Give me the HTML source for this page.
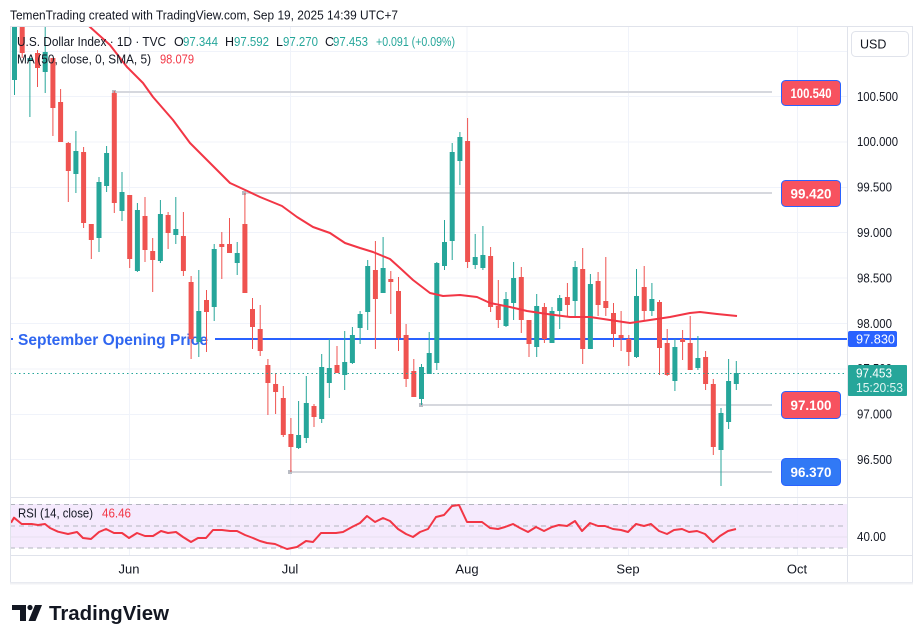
<!DOCTYPE html>
<html><head><meta charset="utf-8"><style>
html,body{margin:0;padding:0;background:#fff;}
svg{display:block;}
text{font-family:"Liberation Sans",sans-serif;}
</style></head><body>
<svg width="923" height="643" viewBox="0 0 923 643" xmlns="http://www.w3.org/2000/svg">
<defs>
<clipPath id="pane"><rect x="10" y="26" width="837" height="471"/></clipPath>
<clipPath id="rsi"><rect x="10" y="498" width="837" height="57"/></clipPath>
</defs>
<rect width="923" height="643" fill="#fff"/>
<text x="10" y="19.5" font-size="13" fill="#131722" textLength="388" lengthAdjust="spacingAndGlyphs">TemenTrading created with TradingView.com, Sep 19, 2025 14:39 UTC+7</text>

<!-- grid -->
<g stroke="#f0f3fa" stroke-width="1">
<line x1="10" y1="51.5" x2="847" y2="51.5"/>
<line x1="10" y1="96.5" x2="847" y2="96.5"/>
<line x1="10" y1="142" x2="847" y2="142"/>
<line x1="10" y1="187.5" x2="847" y2="187.5"/>
<line x1="10" y1="232.5" x2="847" y2="232.5"/>
<line x1="10" y1="278" x2="847" y2="278"/>
<line x1="10" y1="323.5" x2="847" y2="323.5"/>
<line x1="10" y1="369" x2="847" y2="369"/>
<line x1="10" y1="414.5" x2="847" y2="414.5"/>
<line x1="10" y1="459.5" x2="847" y2="459.5"/>
<line x1="129.5" y1="26" x2="129.5" y2="555"/>
<line x1="290.5" y1="26" x2="290.5" y2="555"/>
<line x1="467" y1="26" x2="467" y2="555"/>
<line x1="628.5" y1="26" x2="628.5" y2="555"/>
<line x1="797.5" y1="26" x2="797.5" y2="555"/>
</g>

<!-- RSI band -->
<rect x="10" y="504" width="837" height="44" fill="#f3e6fd" fill-opacity="0.85"/>
<line x1="10" y1="537" x2="847" y2="537" stroke="#e8e0f0" stroke-width="1"/>
<g stroke="#b2b5be" stroke-width="1" stroke-dasharray="5,4">
<line x1="10" y1="504.5" x2="847" y2="504.5"/>
<line x1="10" y1="526" x2="847" y2="526"/>
<line x1="10" y1="548" x2="847" y2="548"/>
</g>

<!-- horizontal level lines -->
<g stroke="#d6d8de" stroke-width="2">
<line x1="114" y1="92" x2="772" y2="92"/>
<line x1="244" y1="193" x2="772" y2="193"/>
<line x1="421" y1="405" x2="772" y2="405"/>
<line x1="290" y1="472" x2="772" y2="472"/>
</g>
<g fill="#b8bbc3">
<rect x="112" y="90" width="4" height="4"/>
<rect x="242" y="191" width="4" height="4"/>
<rect x="419" y="403" width="4" height="4"/>
<rect x="288" y="470" width="4" height="4"/>
</g>

<!-- September opening price -->
<line x1="10" y1="339" x2="13" y2="339" stroke="#2962ff" stroke-width="2"/>
<line x1="215" y1="339" x2="847" y2="339" stroke="#2962ff" stroke-width="2"/>
<text x="18" y="345" font-size="16" font-weight="bold" fill="#2f66f0" textLength="190" lengthAdjust="spacingAndGlyphs">September Opening Price</text>

<g clip-path="url(#pane)">
<!-- green candles -->
<g fill="#26a69a">
<rect x="14" y="27" width="1" height="68"/><rect x="12" y="27" width="5" height="53"/>
<rect x="29.4" y="58" width="1" height="59"/><rect x="27.4" y="58" width="5" height="3"/>
<rect x="44.7" y="27" width="1" height="66"/><rect x="42.7" y="52" width="5" height="20"/>
<rect x="75.4" y="131" width="1" height="62"/><rect x="73.4" y="151" width="5" height="23"/>
<rect x="98.5" y="177" width="1" height="75"/><rect x="96.5" y="182" width="5" height="56"/>
<rect x="106.1" y="146" width="1" height="46"/><rect x="104.1" y="153" width="5" height="33"/>
<rect x="121.5" y="172" width="1" height="49"/><rect x="119.5" y="192" width="5" height="19"/>
<rect x="136.9" y="203" width="1" height="69"/><rect x="134.9" y="210" width="5" height="61"/>
<rect x="159.9" y="200" width="1" height="63"/><rect x="157.9" y="214" width="5" height="47"/>
<rect x="175.3" y="197" width="1" height="47"/><rect x="173.3" y="229" width="5" height="6"/>
<rect x="198.3" y="270" width="1" height="87"/><rect x="196.3" y="311" width="5" height="31"/>
<rect x="213.7" y="244" width="1" height="77"/><rect x="211.7" y="249" width="5" height="58"/>
<rect x="236.7" y="242" width="1" height="33"/><rect x="234.7" y="253" width="5" height="10"/>
<rect x="298.1" y="401" width="1" height="48"/><rect x="296.1" y="435" width="5" height="13"/>
<rect x="305.8" y="376" width="1" height="67"/><rect x="303.8" y="403" width="5" height="35"/>
<rect x="321.2" y="354" width="1" height="69"/><rect x="319.2" y="367" width="5" height="52"/>
<rect x="328.8" y="339" width="1" height="59"/><rect x="326.8" y="368" width="5" height="15"/>
<rect x="344.2" y="331" width="1" height="59"/><rect x="342.2" y="362" width="5" height="13"/>
<rect x="351.9" y="327" width="1" height="37"/><rect x="349.9" y="335" width="5" height="28"/>
<rect x="359.6" y="311" width="1" height="33"/><rect x="357.6" y="314" width="5" height="14"/>
<rect x="367.2" y="260" width="1" height="70"/><rect x="365.2" y="266" width="5" height="46"/>
<rect x="382.6" y="237" width="1" height="56"/><rect x="380.6" y="268" width="5" height="25"/>
<rect x="421" y="364" width="1" height="41"/><rect x="419" y="367" width="5" height="32"/>
<rect x="428.7" y="332" width="1" height="42"/><rect x="426.7" y="353" width="5" height="21"/>
<rect x="436.3" y="262" width="1" height="108"/><rect x="434.3" y="263" width="5" height="100"/>
<rect x="444" y="220" width="1" height="50"/><rect x="442" y="242" width="5" height="24"/>
<rect x="451.7" y="143" width="1" height="117"/><rect x="449.7" y="152" width="5" height="89"/>
<rect x="459.4" y="132" width="1" height="53"/><rect x="457.4" y="137" width="5" height="24"/>
<rect x="474.7" y="234" width="1" height="35"/><rect x="472.7" y="257" width="5" height="8"/>
<rect x="482.4" y="226" width="1" height="44"/><rect x="480.4" y="255" width="5" height="13"/>
<rect x="505.5" y="292" width="1" height="35"/><rect x="503.5" y="299" width="5" height="27"/>
<rect x="513.1" y="262" width="1" height="58"/><rect x="511.1" y="278" width="5" height="25"/>
<rect x="536.2" y="294" width="1" height="63"/><rect x="534.2" y="306" width="5" height="41"/>
<rect x="551.5" y="307" width="1" height="36"/><rect x="549.5" y="311" width="5" height="32"/>
<rect x="559.2" y="295" width="1" height="34"/><rect x="557.2" y="298" width="5" height="13"/>
<rect x="574.6" y="261" width="1" height="56"/><rect x="572.6" y="267" width="5" height="34"/>
<rect x="589.9" y="274" width="1" height="75"/><rect x="587.9" y="284" width="5" height="65"/>
<rect x="636" y="269" width="1" height="89"/><rect x="634" y="296" width="5" height="61"/>
<rect x="651.4" y="283" width="1" height="33"/><rect x="649.4" y="299" width="5" height="12"/>
<rect x="674.4" y="339" width="1" height="52"/><rect x="672.4" y="347" width="5" height="34"/>
<rect x="697.4" y="336" width="1" height="34"/><rect x="695.4" y="358" width="5" height="10"/>
<rect x="720.5" y="408" width="1" height="78"/><rect x="718.5" y="413" width="5" height="37"/>
<rect x="728.1" y="359" width="1" height="70"/><rect x="726.1" y="381" width="5" height="41"/>
<rect x="735.8" y="361" width="1" height="29"/><rect x="733.8" y="373" width="5" height="11"/>
</g>
<!-- red candles -->
<g fill="#ef5350">
<rect x="21.7" y="27" width="1" height="31"/><rect x="19.7" y="27" width="5" height="26"/>
<rect x="37" y="50" width="1" height="37"/><rect x="35" y="53" width="5" height="15"/>
<rect x="52.4" y="58" width="1" height="78"/><rect x="50.4" y="58" width="5" height="50"/>
<rect x="60.1" y="89" width="1" height="53"/><rect x="58.1" y="102" width="5" height="40"/>
<rect x="67.8" y="142" width="1" height="60"/><rect x="65.8" y="143" width="5" height="28"/>
<rect x="83.1" y="147" width="1" height="81"/><rect x="81.1" y="152" width="5" height="71"/>
<rect x="90.8" y="224" width="1" height="35"/><rect x="88.8" y="224" width="5" height="16"/>
<rect x="113.8" y="91" width="1" height="122"/><rect x="111.8" y="93" width="5" height="110"/>
<rect x="129.2" y="195" width="1" height="73"/><rect x="127.2" y="195" width="5" height="64"/>
<rect x="144.5" y="197" width="1" height="65"/><rect x="142.5" y="216" width="5" height="34"/>
<rect x="152.2" y="238" width="1" height="54"/><rect x="150.2" y="251" width="5" height="9"/>
<rect x="167.6" y="212" width="1" height="37"/><rect x="165.6" y="215" width="5" height="18"/>
<rect x="182.9" y="212" width="1" height="64"/><rect x="180.9" y="236" width="5" height="35"/>
<rect x="190.6" y="276" width="1" height="83"/><rect x="188.6" y="282" width="5" height="57"/>
<rect x="206" y="290" width="1" height="62"/><rect x="204" y="300" width="5" height="12"/>
<rect x="221.3" y="232" width="1" height="47"/><rect x="219.3" y="244" width="5" height="3"/>
<rect x="229" y="218" width="1" height="35"/><rect x="227" y="244" width="5" height="9"/>
<rect x="244.4" y="193" width="1" height="100"/><rect x="242.4" y="224" width="5" height="69"/>
<rect x="252" y="298" width="1" height="51"/><rect x="250" y="309" width="5" height="18"/>
<rect x="259.7" y="305" width="1" height="51"/><rect x="257.7" y="329" width="5" height="22"/>
<rect x="267.4" y="359" width="1" height="56"/><rect x="265.4" y="365" width="5" height="18"/>
<rect x="275.1" y="373" width="1" height="41"/><rect x="273.1" y="384" width="5" height="8"/>
<rect x="282.8" y="386" width="1" height="51"/><rect x="280.8" y="398" width="5" height="37"/>
<rect x="290.4" y="418" width="1" height="54"/><rect x="288.4" y="434" width="5" height="13"/>
<rect x="313.5" y="404" width="1" height="23"/><rect x="311.5" y="406" width="5" height="11"/>
<rect x="336.5" y="346" width="1" height="27"/><rect x="334.5" y="365" width="5" height="8"/>
<rect x="374.9" y="241" width="1" height="108"/><rect x="372.9" y="270" width="5" height="29"/>
<rect x="390.3" y="271" width="1" height="43"/><rect x="388.3" y="279" width="5" height="3"/>
<rect x="398" y="277" width="1" height="74"/><rect x="396" y="291" width="5" height="47"/>
<rect x="405.6" y="324" width="1" height="63"/><rect x="403.6" y="335" width="5" height="44"/>
<rect x="413.3" y="359" width="1" height="38"/><rect x="411.3" y="371" width="5" height="26"/>
<rect x="467.1" y="118" width="1" height="150"/><rect x="465.1" y="141" width="5" height="121"/>
<rect x="490.1" y="247" width="1" height="65"/><rect x="488.1" y="256" width="5" height="51"/>
<rect x="497.8" y="280" width="1" height="48"/><rect x="495.8" y="306" width="5" height="14"/>
<rect x="520.8" y="267" width="1" height="66"/><rect x="518.8" y="277" width="5" height="43"/>
<rect x="528.5" y="320" width="1" height="37"/><rect x="526.5" y="320" width="5" height="24"/>
<rect x="543.9" y="303" width="1" height="40"/><rect x="541.9" y="307" width="5" height="32"/>
<rect x="566.9" y="283" width="1" height="33"/><rect x="564.9" y="297" width="5" height="8"/>
<rect x="582.2" y="248" width="1" height="116"/><rect x="580.2" y="269" width="5" height="80"/>
<rect x="597.6" y="272" width="1" height="44"/><rect x="595.6" y="281" width="5" height="24"/>
<rect x="605.3" y="257" width="1" height="59"/><rect x="603.3" y="301" width="5" height="7"/>
<rect x="613" y="303" width="1" height="44"/><rect x="611" y="313" width="5" height="21"/>
<rect x="620.6" y="311" width="1" height="40"/><rect x="618.6" y="335" width="5" height="3"/>
<rect x="628.3" y="335" width="1" height="31"/><rect x="626.3" y="339" width="5" height="13"/>
<rect x="643.7" y="266" width="1" height="55"/><rect x="641.7" y="287" width="5" height="24"/>
<rect x="659" y="300" width="1" height="75"/><rect x="657" y="302" width="5" height="46"/>
<rect x="666.7" y="329" width="1" height="47"/><rect x="664.7" y="343" width="5" height="32"/>
<rect x="682.1" y="330" width="1" height="30"/><rect x="680.1" y="339" width="5" height="3"/>
<rect x="689.7" y="316" width="1" height="54"/><rect x="687.7" y="343" width="5" height="27"/>
<rect x="705.1" y="351" width="1" height="39"/><rect x="703.1" y="357" width="5" height="27"/>
<rect x="712.8" y="379" width="1" height="76"/><rect x="710.8" y="384" width="5" height="63"/>
</g>
<!-- MA -->
<polyline fill="none" stroke="#f23645" stroke-width="2" stroke-linejoin="round" points="85,22 90,27 110,45 127,67 143,83 153,97 173,120 190,143 210,163 230,183 243,189 260,197 282,206 297,217 313,227 330,233 345,243 360,248 373,252 390,259 400,268 413,280 430,293 443,296 460,295 477,297 490,303 510,307 527,311 547,314 570,317 590,317 610,320 630,323 650,320 670,317 690,313 700,312 717,314 737,316"/>
</g>

<!-- current price dotted -->
<line x1="10" y1="373.5" x2="847" y2="373.5" stroke="#26a69a" stroke-width="1" stroke-dasharray="1.5,3"/>

<!-- RSI line -->
<g clip-path="url(#rsi)">
<polyline fill="none" stroke="#f23645" stroke-width="2" stroke-linejoin="round" points="11,522.7 14,517.7 21.7,524 31.7,524 38,525 45,524 50,528 58,531.7 68,534 77,532 83,538 91,539 99,532 106,529 114,533 122,533 129,538 137,533 145,536 153,536 161,531 168,533 176,532 183,537 191,542 198,538 206,538 213,530 222,530 230,531 237,531 245,535 253,538 260,541 267,543 275,544 282,547 287,549 297,547 306,541 313,542 321,533 328,533 336,533 343,532 352,527 360,523 367,516 375,522 383,518 390,521 398,529 406,534 413,537 420,532 428,529 436,517 444,515 452,506 459,505 467,522 482,522 490,528 498,529 505,527 513,524 520,528 528,532 536,527 544,531 552,527 559,525 567,526 575,521 582,531 590,523 598,526 605,526 613,529 621,530 628,532 636,524 644,526 651,524 659,531 667,534 674,530 682,529 689,532 697,531 705,534 713,542 720,536 728,531 736,529"/>
</g>

<!-- frame -->
<g stroke="#e0e3eb" stroke-width="1" fill="none">
<rect x="10.5" y="26.5" width="902" height="556"/>
<line x1="847.5" y1="26" x2="847.5" y2="583"/>
<line x1="10" y1="497.5" x2="913" y2="497.5"/>
<line x1="10" y1="555.5" x2="913" y2="555.5"/>
</g>
<line x1="10" y1="583.5" x2="913" y2="583.5" stroke="#f0f1f4" stroke-width="2"/>

<!-- legend -->
<g font-size="12.5">
<text x="17" y="46" fill="#131722" textLength="149" lengthAdjust="spacingAndGlyphs">U.S. Dollar Index · 1D · TVC</text>
<text x="174" y="46" fill="#131722">O</text>
<text x="183" y="46" fill="#26a69a" textLength="35" lengthAdjust="spacingAndGlyphs">97.344</text>
<text x="225" y="46" fill="#131722">H</text>
<text x="234" y="46" fill="#26a69a" textLength="35" lengthAdjust="spacingAndGlyphs">97.592</text>
<text x="276" y="46" fill="#131722">L</text>
<text x="283" y="46" fill="#26a69a" textLength="35" lengthAdjust="spacingAndGlyphs">97.270</text>
<text x="325" y="46" fill="#131722">C</text>
<text x="333" y="46" fill="#26a69a" textLength="35" lengthAdjust="spacingAndGlyphs">97.453</text>
<text x="376" y="46" fill="#26a69a" textLength="79" lengthAdjust="spacingAndGlyphs">+0.091 (+0.09%)</text>
<text x="17" y="63.5" fill="#131722" textLength="134" lengthAdjust="spacingAndGlyphs">MA (50, close, 0, SMA, 5)</text>
<text x="160" y="63.5" fill="#f23645" textLength="34" lengthAdjust="spacingAndGlyphs">98.079</text>
<text x="18" y="517.5" fill="#131722" textLength="75" lengthAdjust="spacingAndGlyphs">RSI (14, close)</text>
<text x="102" y="517.5" fill="#f23645" textLength="29" lengthAdjust="spacingAndGlyphs">46.46</text>
</g>

<!-- price axis -->
<rect x="851.5" y="31.5" width="57" height="25" rx="4" fill="#fff" stroke="#e0e3eb"/>
<text x="860" y="48.5" font-size="12.5" fill="#131722">USD</text>
<g font-size="12.5" fill="#131722">
<text x="857" y="101" textLength="41" lengthAdjust="spacingAndGlyphs">100.500</text>
<text x="857" y="146" textLength="41" lengthAdjust="spacingAndGlyphs">100.000</text>
<text x="857" y="191.5" textLength="35" lengthAdjust="spacingAndGlyphs">99.500</text>
<text x="857" y="237" textLength="35" lengthAdjust="spacingAndGlyphs">99.000</text>
<text x="857" y="282.5" textLength="35" lengthAdjust="spacingAndGlyphs">98.500</text>
<text x="857" y="328" textLength="35" lengthAdjust="spacingAndGlyphs">98.000</text>
<text x="857" y="373" textLength="35" lengthAdjust="spacingAndGlyphs">97.500</text>
<text x="857" y="418.5" textLength="35" lengthAdjust="spacingAndGlyphs">97.000</text>
<text x="857" y="464" textLength="35" lengthAdjust="spacingAndGlyphs">96.500</text>
<text x="857" y="541" textLength="29" lengthAdjust="spacingAndGlyphs">40.00</text>
</g>
<rect x="848" y="331" width="49" height="16" rx="2" fill="#2962ff"/>
<text x="856" y="343.5" font-size="12.5" fill="#fff" textLength="39" lengthAdjust="spacingAndGlyphs">97.830</text>
<rect x="848" y="365" width="59" height="31" rx="1" fill="#26a69a"/>
<text x="856" y="377.5" font-size="12.5" fill="#fff" textLength="36" lengthAdjust="spacingAndGlyphs">97.453</text>
<text x="856" y="392" font-size="12.5" fill="#e0f5f2" textLength="47" lengthAdjust="spacingAndGlyphs">15:20:53</text>

<!-- badges -->
<g stroke="#2962ff" stroke-width="1">
<rect x="781.5" y="80.5" width="59" height="25" rx="4" fill="#f7525f"/>
<rect x="781.5" y="180.5" width="59" height="26" rx="4" fill="#f7525f"/>
<rect x="781.5" y="391.5" width="59" height="27" rx="4" fill="#f7525f"/>
<rect x="781.5" y="458.5" width="59" height="27" rx="4" fill="#3179f5"/>
</g>
<g font-size="14" font-weight="bold" fill="#fff" text-anchor="middle">
<text x="811" y="98" textLength="41" lengthAdjust="spacingAndGlyphs">100.540</text>
<text x="811" y="198.5" textLength="41" lengthAdjust="spacingAndGlyphs">99.420</text>
<text x="811" y="410" textLength="41" lengthAdjust="spacingAndGlyphs">97.100</text>
<text x="811" y="477" textLength="41" lengthAdjust="spacingAndGlyphs">96.370</text>
</g>

<!-- time axis -->
<g font-size="13" fill="#131722" text-anchor="middle">
<text x="129" y="573.5">Jun</text>
<text x="290" y="573.5">Jul</text>
<text x="467" y="573.5">Aug</text>
<text x="628" y="573.5">Sep</text>
<text x="797" y="573.5">Oct</text>
</g>

<!-- logo -->
<g fill="#131722">
<path d="M12 605 H26 V621 H20 V610 H12 Z"/>
<circle cx="30" cy="607.5" r="2.6"/>
<path d="M35 605 H42 L35.5 621 H28.5 Z"/>
</g>
<text x="49" y="620" font-size="20.5" font-weight="bold" fill="#131722" textLength="120" lengthAdjust="spacingAndGlyphs">TradingView</text>
</svg>
</body></html>
